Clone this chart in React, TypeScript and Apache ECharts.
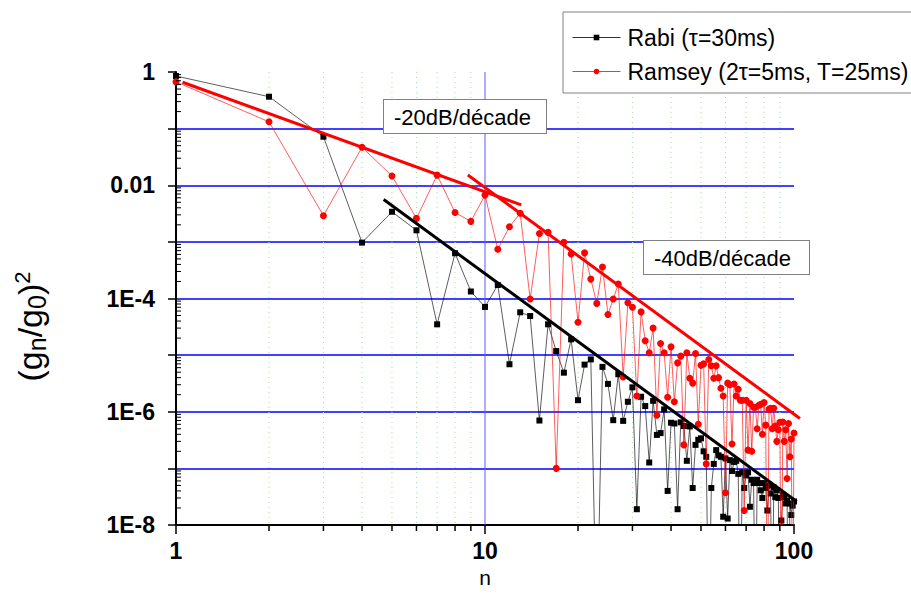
import React, { useEffect, useRef } from 'react';
import * as echarts from 'echarts';

// (g_n/g_0)^2 values, n = 1 .. 100
const rabiValues = [
  0.85, 0.366, 0.072, 9.7e-4, 3.4e-3, 1.6e-3, 3.5e-5, 6.3e-4, 1.33e-4, 7.1e-5,
  1.73e-4, 6.9e-6, 5.7e-5, 4.9e-5, 7.0e-7, 3.5e-5, 1.18e-5, 4.9e-6, 1.9e-5, 1.6e-6,
  6.8e-6, 8.4e-6, 1e-10, 6.2e-6, 3.1e-6, 7.1e-7, 4.6e-6, 6.9e-7, 1.5e-6, 2.7e-6,
  1.9e-8, 1.84e-6, 1.26e-6, 1.27e-7, 1.56e-6, 3.9e-7, 4.2e-7, 1.1e-6, 4.0e-8, 6.4e-7,
  6.2e-7, 1.9e-8, 6.5e-7, 5.6e-7, 1.36e-7, 5.5e-7, 4.5e-8, 2.6e-7, 3.2e-7, 3.4e-7,
  2.0e-7, 1.6e-7, 1e-10, 4.5e-8, 1.2e-7, 2.1e-7, 1.7e-7, 1.6e-7, 1.4e-8, 1.5e-7,
  1.3e-8, 1.4e-7, 9e-8, 1.3e-7, 1.36e-7, 8e-8, 1e-10, 8.5e-8, 4.5e-8, 7.5e-8,
  8.5e-8, 2.1e-8, 6.3e-8, 5.5e-8, 1e-10, 6.3e-8, 5.5e-8, 4.1e-8, 3e-8, 5.5e-8,
  4.5e-8, 1.8e-8, 5e-8, 3.6e-8, 1e-10, 4.6e-8, 3.1e-8, 4.1e-8, 3.0e-8, 1e-10,
  1.2e-8, 3.4e-8, 3.1e-8, 2.4e-8, 2.7e-8, 1e-10, 2.4e-8, 1.5e-8, 2.2e-8, 2.6e-8,
];

const ramseyValues = [
  0.67, 0.132, 2.9e-3, 0.0468, 0.0146, 2.6e-3, 0.0151, 3.3e-3, 2.3e-3, 6.7e-3,
  7.4e-4, 1.85e-3, 3.2e-3, 9.8e-5, 1.41e-3, 1.47e-3, 1.0e-7, 9.8e-4, 6.1e-4, 3.8e-5,
  6.4e-4, 2.2e-4, 8.2e-5, 3.6e-4, 5.2e-5, 9.8e-5, 1.8e-4, 4.1e-6, 8.4e-5, 7.0e-5,
  1.9e-6, 5.8e-5, 1.8e-5, 1.1e-5, 3.0e-5, 8.7e-7, 1.6e-5, 1.1e-5, 1.8e-6, 1.4e-5,
  1.5e-6, 7.3e-6, 9.6e-6, 2.6e-7, 1.1e-5, 3.9e-6, 3.2e-6, 1.07e-5, 6.0e-7, 6.6e-6,
  7.0e-6, 1.2e-7, 8.4e-6, 6.5e-6, 3.9e-6, 6.5e-6, 4.0e-6, 2.6e-6, 1.9e-6, 3.7e-8,
  3.2e-6, 3.0e-6, 2.7e-7, 3.1e-6, 1.9e-6, 2.5e-6, 1.6e-6, 1.6e-6, 1.8e-8, 1.6e-6,
  2.1e-7, 1.4e-6, 2.0e-7, 1.2e-6, 1.2e-6, 5e-7, 1.3e-6, 1.35e-6, 4e-7, 1.45e-6,
  5.8e-7, 1e-10, 1.1e-6, 1.15e-6, 5e-7, 1.15e-6, 5.6e-7, 3e-7, 4.8e-7, 6.5e-7,
  1e-10, 6.6e-7, 3e-7, 4.8e-7, 6.6e-8, 6.2e-7, 1.6e-7, 3.3e-7, 1e-10, 4.2e-7,
];

// slope guides: [n start, value start, n end, value end]
const trend20dB = [1.05, 0.66, 13.1, 4.5e-3];
const trend40dBRamsey = [8.8, 0.0152, 104.5, 7.6e-7];
const trend40dBRabi = [4.7, 5.6e-3, 102, 2.6e-8];

const xMinorTicks = [2, 3, 4, 5, 6, 7, 8, 9, 20, 30, 40, 50, 60, 70, 80, 90];
const xMajorGrid = [10];
const yMinorMantissas = [2, 3, 4, 5, 6, 7, 8, 9];
const yDecades = [-8, -7, -6, -5, -4, -3, -2, -1];
const yLabelDecades = [0, -2, -4, -6, -8];

const RABI = 'Rabi (τ=30ms)';
const RAMSEY = 'Ramsey (2τ=5ms, T=25ms)';
const FONT = '"Liberation Sans", Arial, Helvetica, sans-serif';

function yLabel(v: number): string {
  const e = Math.round(Math.log10(v));
  if (!yLabelDecades.includes(e)) return '';
  if (e === 0) return '1';
  if (e === -2) return '0.01';
  return '1E' + e;
}

export default function App() {
  const ref = useRef<HTMLDivElement>(null);

  useEffect(() => {
    if (!ref.current) return;
    const chart = echarts.init(ref.current, undefined, { renderer: 'svg' });

    const rabiData = rabiValues.map((v, i) => [i + 1, v]);
    const ramseyData = ramseyValues.map((v, i) => [i + 1, v]);
    const xMinorData = xMinorTicks.map((x) => [x, 1e-8]);
    const xMajorGridData = xMajorGrid.map((x) => [x, 1e-8]);
    const yMinorData: number[][] = [];
    yDecades.forEach((d) => yMinorMantissas.forEach((m) => yMinorData.push([1, m * Math.pow(10, d)])));

    const blue = '#0000ff';
    const T = 'rgba(0,0,0,0)';

    const trendSeries = (name: string, seg: number[], color: string) => ({
      type: 'custom',
      name,
      silent: true,
      clip: false,
      z: 6,
      dimensions: ['x1', 'y1', 'x2', 'y2'],
      encode: { x: [0, 2], y: [1, 3] },
      data: [seg],
      renderItem: (params: any, api: any) => {
        const a = api.coord([api.value(0), api.value(1)]);
        const b = api.coord([api.value(2), api.value(3)]);
        return {
          type: 'line',
          shape: { x1: a[0], y1: a[1], x2: b[0], y2: b[1] },
          style: { stroke: color, lineWidth: 3 },
        };
      },
    });

    const option: any = {
      animation: false,
      backgroundColor: '#ffffff',
      textStyle: { fontFamily: FONT },
      grid: { left: 176, right: 117, top: 72, bottom: 76, containLabel: false, outerBoundsMode: 'none' },
      legend: {
        data: [RABI, RAMSEY],
        orient: 'vertical',
        left: 563,
        top: 12,
        padding: [14, 18, 10, 9],
        itemGap: 11,
        itemWidth: 48,
        itemHeight: 7,
        backgroundColor: '#ffffff',
        borderColor: '#808080',
        borderWidth: 1,
        lineStyle: { width: 1 },
        textStyle: { fontFamily: FONT, fontSize: 23, color: '#000', padding: [0, 0, 0, 2] },
      },
      xAxis: {
        type: 'log',
        logBase: 10,
        min: 1,
        max: 100,
        splitNumber: 2,
        axisLine: { show: true, onZero: false, lineStyle: { color: '#000', width: 2 } },
        axisTick: { show: true, inside: false, length: 9, lineStyle: { color: '#000', width: 1.5 } },
        axisLabel: {
          fontFamily: FONT, fontSize: 23, fontWeight: 'bold', color: '#000', margin: 14,
          formatter: (v: number) => String(Math.round(v)),
        },
        splitLine: { show: false },
        name: 'n',
        nameLocation: 'middle',
        nameGap: 41,
        nameTextStyle: { fontFamily: FONT, fontSize: 21, color: '#000' },
      },
      yAxis: {
        type: 'log',
        logBase: 10,
        min: 1e-8,
        max: 1,
        splitNumber: 8,
        axisLine: { show: true, onZero: false, lineStyle: { color: '#000', width: 2 } },
        axisTick: { show: true, inside: false, length: 8, lineStyle: { color: '#000', width: 1.5 } },
        axisLabel: {
          fontFamily: FONT, fontSize: 23, fontWeight: 'bold', color: '#000', margin: 21,
          formatter: yLabel,
        },
        splitLine: {
          show: true,
          lineStyle: { color: [T, blue, blue, blue, blue, blue, blue, blue, T], width: 1.6 },
        },
        name: '{a|(g}{s|n}{a|/g}{s|0}{a|)}{p|2}',
        nameLocation: 'middle',
        nameGap: 127,
        nameRotate: 90,
        nameTextStyle: {
          fontFamily: FONT,
          fontSize: 34,
          color: '#000',
          padding: [0, 56, 0, 0],
          rich: {
            a: { fontFamily: FONT, fontSize: 34, color: '#000', lineHeight: 38 },
            s: { fontFamily: FONT, fontSize: 25, color: '#000', lineHeight: 25, verticalAlign: 'bottom' },
            p: { fontFamily: FONT, fontSize: 22, color: '#000', lineHeight: 22, verticalAlign: 'top' },
          },
        },
      },
      graphic: [
        {
          type: 'text',
          left: 383,
          top: 99,
          z: 100,
          style: {
            text: '-20dB/décade',
            font: '22px ' + FONT,
            fill: '#000',
            backgroundColor: '#fff',
            borderColor: '#808080',
            borderWidth: 1,
            padding: [6, 15, 5, 10],
          },
        },
        {
          type: 'text',
          left: 643,
          top: 240,
          z: 100,
          style: {
            text: '-40dB/décade',
            font: '22px ' + FONT,
            fill: '#000',
            backgroundColor: '#fff',
            borderColor: '#808080',
            borderWidth: 1,
            padding: [6, 18, 5, 10],
          },
        },
      ],
      series: [
        {
          type: 'custom',
          name: 'xminor',
          silent: true,
          z: 1,
          clip: false,
          data: xMinorData,
          renderItem: (params: any, api: any) => {
            const x = api.value(0);
            const b = api.coord([x, 1e-8]);
            const t = api.coord([x, 1]);
            return {
              type: 'group',
              children: [
                { type: 'line', shape: { x1: b[0], y1: t[1], x2: b[0], y2: b[1] }, style: { stroke: '#9be89b', lineWidth: 1, lineDash: [1, 4] } },
                { type: 'line', shape: { x1: b[0], y1: b[1], x2: b[0], y2: b[1] + 6 }, style: { stroke: '#000', lineWidth: 1.5 } },
              ],
            };
          },
        },
        {
          type: 'custom',
          name: 'xmajorgrid',
          silent: true,
          z: 1,
          clip: false,
          data: xMajorGridData,
          renderItem: (params: any, api: any) => {
            const x = api.value(0);
            const b = api.coord([x, 1e-8]);
            const t = api.coord([x, 1]);
            return {
              type: 'line',
              shape: { x1: b[0], y1: t[1], x2: b[0], y2: b[1] },
              style: { stroke: '#5a5aff', lineWidth: 1 },
            };
          },
        },
        {
          type: 'custom',
          name: 'yminor',
          silent: true,
          z: 5,
          clip: false,
          data: yMinorData,
          renderItem: (params: any, api: any) => {
            const p = api.coord([1, api.value(1)]);
            return { type: 'line', shape: { x1: p[0], y1: p[1], x2: p[0] + 5, y2: p[1] }, style: { stroke: '#000', lineWidth: 1 } };
          },
        },
        {
          name: RABI,
          type: 'line',
          data: rabiData,
          symbol: 'rect',
          symbolSize: 6,
          showAllSymbol: true,
          itemStyle: { color: '#000' },
          lineStyle: { color: '#000', width: 0.8, opacity: 0.8 },
          z: 3,
        },
        {
          name: RAMSEY,
          type: 'line',
          data: ramseyData,
          symbol: 'circle',
          symbolSize: 7,
          showAllSymbol: true,
          itemStyle: { color: '#ff0000' },
          lineStyle: { color: '#ff0000', width: 0.8, opacity: 0.8 },
          z: 4,
        },
        trendSeries('t20', trend20dB, '#ff0000'),
        trendSeries('t40r', trend40dBRamsey, '#ff0000'),
        trendSeries('t40b', trend40dBRabi, '#000000'),
      ],
    };

    chart.setOption(option);
    return () => chart.dispose();
  }, []);

  return <div ref={ref} style={{ position: 'fixed', left: 0, top: 0, width: 911, height: 601 }} />;
}
